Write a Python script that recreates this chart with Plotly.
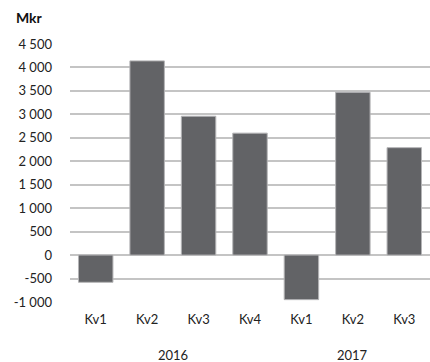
import plotly.graph_objects as go

years = ["2016", "2016", "2016", "2016", "2017", "2017", "2017"]
quarters = ["Kv1", "Kv2", "Kv3", "Kv4", "Kv1", "Kv2", "Kv3"]
values = [-580, 4140, 2960, 2600, -950, 3470, 2290]

tick_vals = [-1000, -500, 0, 500, 1000, 1500, 2000, 2500, 3000, 3500, 4000, 4500]
tick_text = ["-1 000", "-500", "0", "500", "1 000", "1 500", "2 000", "2 500",
             "3 000", "3 500", "4 000", "4 500"]

FONT = "Lato, 'Open Sans', sans-serif"

idx = list(range(len(quarters)))

fig = go.Figure(go.Bar(
    x=idx,
    y=values,
    marker=dict(color="#626366", line=dict(color="#b4b4b6", width=1)),
))

# year group labels centred under their quarters
year_annos = []
for yr in dict.fromkeys(years):
    pos = [i for i, y in zip(idx, years) if y == yr]
    year_annos.append(dict(text=yr, xref="x", yref="paper", x=sum(pos) / len(pos), y=0,
                           yshift=-53, xanchor="center", yanchor="middle", showarrow=False,
                           font=dict(family=FONT, size=13, color="#222222")))

fig.update_layout(
    width=430, height=362,
    margin=dict(l=70, r=0, t=44, b=60),
    paper_bgcolor="white", plot_bgcolor="white",
    bargap=0.33,
    showlegend=False,
    font=dict(family=FONT, size=13, color="#222222"),
    annotations=[dict(text="<b>Mkr</b>", xref="paper", yref="paper",
                      x=-70/360 + 14/360, y=1, yshift=27, xanchor="left", yanchor="middle",
                      showarrow=False, font=dict(family=FONT, size=14, color="#111111"))]
                + year_annos,
)
fig.update_xaxes(
    tickvals=idx, ticktext=quarters, range=[-0.5, len(idx) - 0.5],
    showgrid=False, zeroline=False, showline=False, ticks="",
    ticklabelstandoff=8,
    tickfont=dict(family=FONT, size=13, color="#222222"), automargin=False,
)
fig.update_yaxes(
    range=[-1000, 4500], tickvals=tick_vals, ticktext=tick_text,
    showgrid=True, gridcolor="#c4c4c4", gridwidth=1.8,
    zeroline=True, zerolinecolor="#c4c4c4", zerolinewidth=1.8,
    showline=False, ticks="", ticklabelstandoff=17,
    tickfont=dict(family=FONT, size=13, color="#222222"), automargin=False,
)

fig.write_html("out.html")
